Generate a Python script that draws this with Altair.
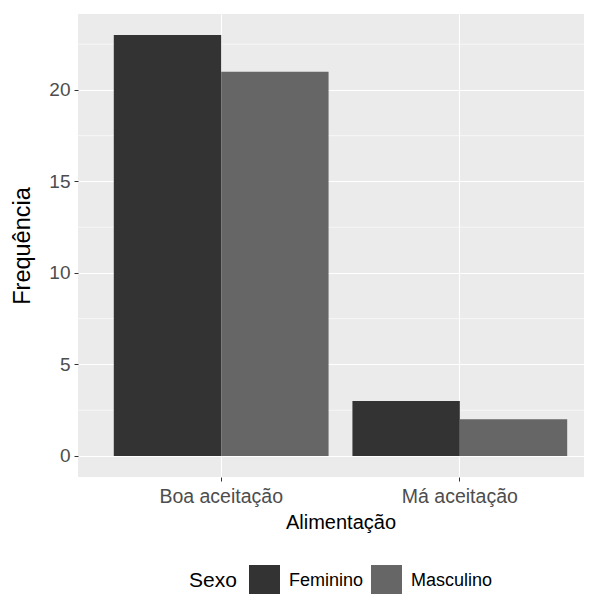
import altair as alt
import pandas as pd

categorias = ["Boa aceitação", "Má aceitação"]
sexos = ["Feminino", "Masculino"]
feminino = [23, 3]
masculino = [21, 2]
y_breaks = [0, 5, 10, 15, 20]
y_minor = [2.5, 7.5, 12.5, 17.5, 22.5]
cores = ["#333333", "#666666"]

rows = []
for i, c in enumerate(categorias):
    rows.append({"Alimentação": c, "Sexo": "Feminino", "Frequência": feminino[i]})
    rows.append({"Alimentação": c, "Sexo": "Masculino", "Frequência": masculino[i]})
df = pd.DataFrame(rows)
minor_df = pd.DataFrame({"Frequência": y_minor})

FONT = "Liberation Sans"

yscale = alt.Scale(domain=[-1.15, 24.15], nice=False, zero=False)
yaxis = alt.Axis(
    title="Frequência",
    values=y_breaks,
    grid=True,
    gridColor="white",
    gridWidth=1.1,
    domain=False,
    tickColor="#333333",
    tickSize=4,
    tickWidth=1,
    labelPadding=4,
    labelFont=FONT,
    labelFontSize=19,
    labelColor="#4D4D4D",
    titleFont=FONT,
    titleFontSize=23.5,
    titleFontWeight="normal",
    titleColor="black",
    titlePadding=14,
)

minor = alt.Chart(minor_df).mark_rule(color="white", strokeWidth=0.6).encode(
    y=alt.Y("Frequência:Q", scale=yscale, axis=yaxis)
)

bars = alt.Chart(df).mark_bar(stroke=None).encode(
    x=alt.X(
        "Alimentação:N",
        sort=categorias,
        scale=alt.Scale(range=[0, 525], paddingInner=0.1, paddingOuter=0.15),
        axis=alt.Axis(
            title="Alimentação",
            bandPosition=0.5,
            grid=True,
            gridColor="white",
            gridWidth=1.1,
            domain=False,
            tickColor="#333333",
            tickSize=4,
            tickWidth=1,
            labelPadding=6,
            labelAngle=0,
            labelFont=FONT,
            labelFontSize=19.5,
            labelColor="#4D4D4D",
            titleFont=FONT,
            titleFontSize=20,
            titleFontWeight="normal",
            titleColor="black",
            titlePadding=7,
        ),
    ),
    xOffset=alt.XOffset("Sexo:N", sort=sexos, scale=alt.Scale(paddingInner=0, paddingOuter=0)),
    y=alt.Y("Frequência:Q", scale=yscale, axis=yaxis),
    color=alt.Color(
        "Sexo:N",
        sort=sexos,
        scale=alt.Scale(domain=sexos, range=cores),
        legend=alt.Legend(
            title="Sexo",
            orient="none",
            direction="horizontal",
            legendX=111,
            legendY=551,
            titleOrient="left",
            titleFont=FONT,
            titleFontSize=21,
            titleFontWeight="normal",
            titleColor="black",
            titlePadding=12,
            titleBaseline="middle",
            titleAnchor="middle",
            labelFont=FONT,
            labelFontSize=18,
            labelColor="black",
            labelOffset=9,
            symbolType="square",
            symbolSize=961,
            symbolStrokeWidth=0,
            columnPadding=7,
            padding=0,
        ),
    ),
)

chart = alt.layer(minor, bars).properties(
    width=506,
    height=463,
    autosize=alt.AutoSizeParams(type="none"),
    padding={"left": 70, "top": 6, "right": 0, "bottom": 117},
    background="white",
).configure_view(stroke=None, fill="#EBEBEB")

chart.save("out.html", embed_options={"renderer": "svg", "actions": False})
